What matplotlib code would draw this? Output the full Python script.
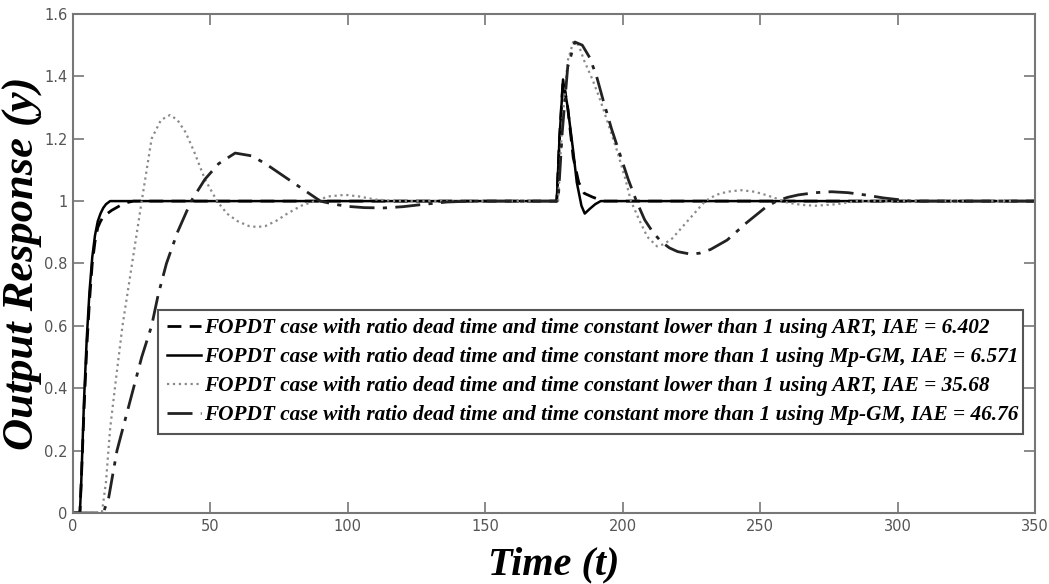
import matplotlib
matplotlib.use("Agg")
import matplotlib.pyplot as plt

# FOPDT, ratio < 1, ART (IAE = 6.402)
t_art1 = [0, 2.5, 3, 4, 5, 6, 7, 8, 9, 10, 11, 12.5, 14, 16, 18, 20, 22,
          176, 177, 178.3, 180, 182, 184, 186, 189, 193, 350]
y_art1 = [0, 0, 0.1, 0.33, 0.53, 0.68, 0.8, 0.87, 0.915, 0.935, 0.95, 0.96, 0.97, 0.98, 0.99, 0.996, 1.0,
          1.0, 1.2, 1.39, 1.3, 1.14, 1.06, 1.025, 1.013, 1.0, 1.0]

# FOPDT, ratio > 1, Mp-GM (IAE = 6.571)
t_mpgm1 = [0, 2.5, 3, 4, 5, 6, 7, 8, 9, 10, 11, 12, 13.5,
           176, 177, 178.3, 180, 182, 183.3, 185, 186.2, 188, 190, 192, 195, 350]
y_mpgm1 = [0, 0, 0.1, 0.36, 0.56, 0.71, 0.82, 0.89, 0.935, 0.96, 0.978, 0.99, 1.0,
           1.0, 1.2, 1.39, 1.3, 1.16, 1.06, 0.985, 0.96, 0.975, 0.99, 1.0, 1.0, 1.0]

# FOPDT, ratio < 1, ART (IAE = 35.68)
t_art2 = [0, 10.5, 12, 13.5, 15.5, 18, 21.5, 25, 28.6, 32, 35.3, 38, 41, 44, 48, 52.4, 56,
          60, 64, 67, 70, 74, 78, 83, 88, 93, 99, 104, 110, 118,
          176.5, 178, 180, 182, 184, 186, 189, 192, 195, 198, 201, 203, 206, 209, 212.5, 215, 218,
          221, 224, 227, 230, 234, 238, 243, 248, 252, 256, 260, 265, 270, 278, 285, 350]
y_art2 = [0, 0, 0.1, 0.27, 0.42, 0.6, 0.8, 1.0, 1.2, 1.26, 1.276, 1.26, 1.22, 1.16, 1.07, 1.0, 0.96,
          0.935, 0.92, 0.917, 0.92, 0.937, 0.96, 0.985, 1.0, 1.015, 1.02, 1.015, 1.005, 1.0,
          1.0, 1.25, 1.45, 1.51, 1.5, 1.45, 1.39, 1.32, 1.24, 1.16, 1.07, 1.0, 0.94, 0.885, 0.855, 0.862, 0.88,
          0.91, 0.94, 0.97, 1.0, 1.02, 1.03, 1.035, 1.03, 1.02, 1.008, 0.995, 0.988, 0.985, 0.99, 1.0, 1.0]

# FOPDT, ratio > 1, Mp-GM (IAE = 46.76)
t_mpgm2 = [0, 11, 13, 16, 19, 22, 25, 28.6, 31, 34, 38, 43, 48, 53, 59, 65, 70, 75, 80, 85,
           90, 95, 100, 106, 113, 120, 128, 136, 145,
           176.5, 178, 180, 182.6, 185.3, 188, 190.5, 193, 196, 199, 202, 205, 208, 211, 214, 217,
           220, 224.7, 228, 232, 238, 245, 252, 256, 260, 264, 270, 276, 282, 288, 295, 305, 350]
y_mpgm2 = [0, 0, 0.05, 0.2, 0.3, 0.4, 0.5, 0.6, 0.7, 0.8, 0.9, 1.0, 1.07, 1.12, 1.154, 1.145, 1.12, 1.09, 1.06, 1.03,
           1.0, 0.99, 0.983, 0.979, 0.978, 0.982, 0.99, 0.997, 1.0,
           1.0, 1.22, 1.43, 1.51, 1.5, 1.46, 1.4, 1.32, 1.23, 1.15, 1.07, 1.0, 0.94, 0.9, 0.87, 0.85,
           0.838, 0.83, 0.833, 0.845, 0.875, 0.93, 0.98, 1.0, 1.012, 1.02, 1.027, 1.03, 1.027, 1.02, 1.01, 1.0, 1.0]

labels = [
    "FOPDT case with ratio dead time and time constant lower than 1 using ART, IAE = 6.402",
    "FOPDT case with ratio dead time and time constant more than 1 using Mp-GM, IAE = 6.571",
    "FOPDT case with ratio dead time and time constant lower than 1 using ART, IAE = 35.68",
    "FOPDT case with ratio dead time and time constant more than 1 using Mp-GM, IAE = 46.76",
]
x_ticks = [0, 50, 100, 150, 200, 250, 300, 350]
y_ticks = [0, 0.2, 0.4, 0.6, 0.8, 1.0, 1.2, 1.4, 1.6]
y_tick_labels = ["0", "0.2", "0.4", "0.6", "0.8", "1", "1.2", "1.4", "1.6"]

serif = ["Liberation Serif", "DejaVu Serif"]
tick_font = ["Liberation Sans Narrow", "DejaVu Sans"]

fig = plt.figure(figsize=(10.49, 5.84), dpi=100)
ax = fig.add_axes([0.0696, 0.1216, 0.917, 0.8545])

ax.plot(t_art1, y_art1, color="black", lw=2.0, dashes=(5, 3), label=labels[0])
ax.plot(t_mpgm1, y_mpgm1, color="black", lw=1.8, ls="-", label=labels[1])
ax.plot(t_art2, y_art2, color="#8a8a8a", lw=1.6, ls=":", label=labels[2])
ax.plot(t_mpgm2, y_mpgm2, color="#222222", lw=2.0, dashes=(9, 3, 1.5, 3), label=labels[3])

ax.set_xlim(0, 350)
ax.set_ylim(0, 1.6)
ax.set_xticks(x_ticks)
ax.set_xticklabels([str(v) for v in x_ticks])
ax.set_yticks(y_ticks)
ax.set_yticklabels(y_tick_labels)
ax.tick_params(direction="in", top=True, right=True, length=8, width=1.2,
               color="#777777", labelcolor="#555555", labelsize=10.5, pad=4)
for lab in ax.get_xticklabels() + ax.get_yticklabels():
    lab.set_family(tick_font)
for sp in ax.spines.values():
    sp.set_color("#777777")
    sp.set_linewidth(1.5)

ax.set_xlabel("Time (t)", family=serif, style="italic", weight="bold", fontsize=29, labelpad=9)
ax.set_ylabel("Output Response (y)", family=serif, style="italic", weight="bold", fontsize=32, labelpad=1)

leg = ax.legend(loc="upper left", bbox_to_anchor=(0.0884, 0.152, 0.899, 0.255), mode="expand",
                prop={"family": serif, "style": "italic", "weight": "bold", "size": 15.3},
                handlelength=1.6, handletextpad=0.15, labelspacing=0.42, borderaxespad=0,
                borderpad=0.4, fancybox=False, framealpha=1)
leg.get_frame().set_edgecolor("#555555")
leg.get_frame().set_linewidth(1.5)

fig.savefig("out.png", dpi=100)
